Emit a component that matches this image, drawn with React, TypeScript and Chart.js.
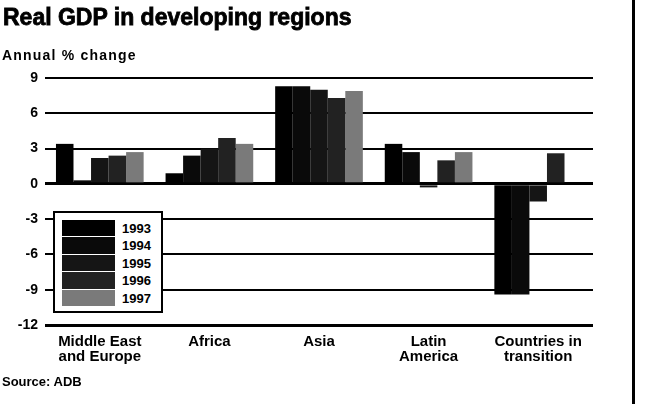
import React, { useEffect, useRef } from "react";
import { Chart, registerables } from "chart.js";

Chart.register(...registerables);

const categories: (string | string[])[] = [
  ["Middle East", "and Europe"],
  "Africa",
  "Asia",
  ["Latin", "America"],
  ["Countries in", "transition"],
];
const years = ["1993", "1994", "1995", "1996", "1997"];
const v1993 = [3.4, 0.9, 8.3, 3.4, -9.4];
const v1994 = [0.3, 2.4, 8.3, 2.7, -9.4];
const v1995 = [2.2, 3.0, 8.0, -0.3, -1.5];
const v1996 = [2.4, 3.9, 7.3, 2.0, 2.6];
const v1997 = [2.7, 3.4, 7.9, 2.7, null];
const yTicks = [9, 6, 3, 0, -3, -6, -9, -12];
const seriesColors = ["#000000", "#0a0a0a", "#151515", "#222222", "#7a7a7a"];

const FONT = "'Liberation Sans', Arial, sans-serif";

export default function App() {
  const ref = useRef<HTMLCanvasElement | null>(null);

  useEffect(() => {
    if (!ref.current) return;
    const series = [v1993, v1994, v1995, v1996, v1997];
    const chart = new Chart(ref.current, {
      type: "bar",
      data: {
        labels: categories,
        datasets: series.map((d, i) => ({
          label: years[i],
          data: d,
          backgroundColor: seriesColors[i],
          borderWidth: 0,
          categoryPercentage: 0.8,
          barPercentage: 1.0,
        })),
      },
      options: {
        animation: false,
        responsive: false,
        devicePixelRatio: 1,
        layout: { padding: { left: 0, right: 54, top: 78, bottom: 39 } },
        plugins: {
          legend: { display: false },
          title: { display: false },
          tooltip: { enabled: false },
        },
        scales: {
          x: {
            grid: { display: false, drawTicks: false },
            border: { display: false },
            ticks: {
              color: "#000",
              font: { family: FONT, size: 15, weight: "bold", lineHeight: 1.0 },
              padding: 9,
              maxRotation: 0,
              autoSkip: false,
            },
            afterFit: (s: any) => {
              s.height = 40;
            },
          },
          y: {
            min: -12,
            max: 9,
            afterBuildTicks: (s: any) => {
              s.ticks = yTicks.map((v) => ({ value: v }));
            },
            grid: {
              color: "#000",
              drawTicks: false,
              lineWidth: (c: any) =>
                c.tick && (c.tick.value === 0 || c.tick.value === -12) ? 3 : 2,
            },
            border: { display: false },
            ticks: {
              color: "#000",
              font: { family: FONT, size: 14, weight: "bold" },
              padding: 7,
              callback: (v: any) => String(v),
            },
            afterFit: (s: any) => {
              s.width = 45;
            },
          },
        },
      },
    });
    return () => chart.destroy();
  }, []);

  const swatchH = 17.4;
  return (
    <div
      style={{
        position: "absolute",
        left: 0,
        top: 0,
        width: 647,
        height: 404,
        background: "#fff",
        overflow: "hidden",
        fontFamily: FONT,
        color: "#000",
      }}
    >
      <canvas ref={ref} width={647} height={404} style={{ position: "absolute", left: 0, top: 0 }} />
      <div
        style={{
          position: "absolute",
          left: 3,
          top: 6,
          fontSize: 23,
          fontWeight: "bold",
          lineHeight: "23px",
          whiteSpace: "nowrap",
          WebkitTextStroke: "0.8px #000",
        }}
      >
        Real GDP in developing regions
      </div>
      <div
        style={{
          position: "absolute",
          left: 2,
          top: 48,
          fontSize: 14,
          fontWeight: "bold",
          lineHeight: "14px",
          letterSpacing: "1.2px",
          whiteSpace: "nowrap",
        }}
      >
        Annual % change
      </div>
      <div
        style={{
          position: "absolute",
          left: 2,
          top: 375,
          fontSize: 13,
          fontWeight: "bold",
          lineHeight: "13px",
          whiteSpace: "nowrap",
        }}
      >
        Source: ADB
      </div>
      <div
        style={{
          position: "absolute",
          left: 53,
          top: 211,
          width: 106,
          height: 98,
          border: "2px solid #000",
          background: "#fff",
        }}
      >
        {years.map((y, i) => (
          <div key={y}>
            <div
              style={{
                position: "absolute",
                left: 7,
                top: 7 + i * swatchH,
                width: 53,
                height: swatchH - 1,
                background: seriesColors[i],
              }}
            />
            <div
              style={{
                position: "absolute",
                left: 67,
                top: 7 + i * swatchH,
                height: swatchH,
                lineHeight: swatchH + "px",
                fontSize: 13,
                fontWeight: "bold",
              }}
            >
              {y}
            </div>
          </div>
        ))}
      </div>
      <div
        style={{
          position: "absolute",
          left: 632,
          top: 0,
          width: 3,
          height: 404,
          background: "#000",
        }}
      />
    </div>
  );
}
